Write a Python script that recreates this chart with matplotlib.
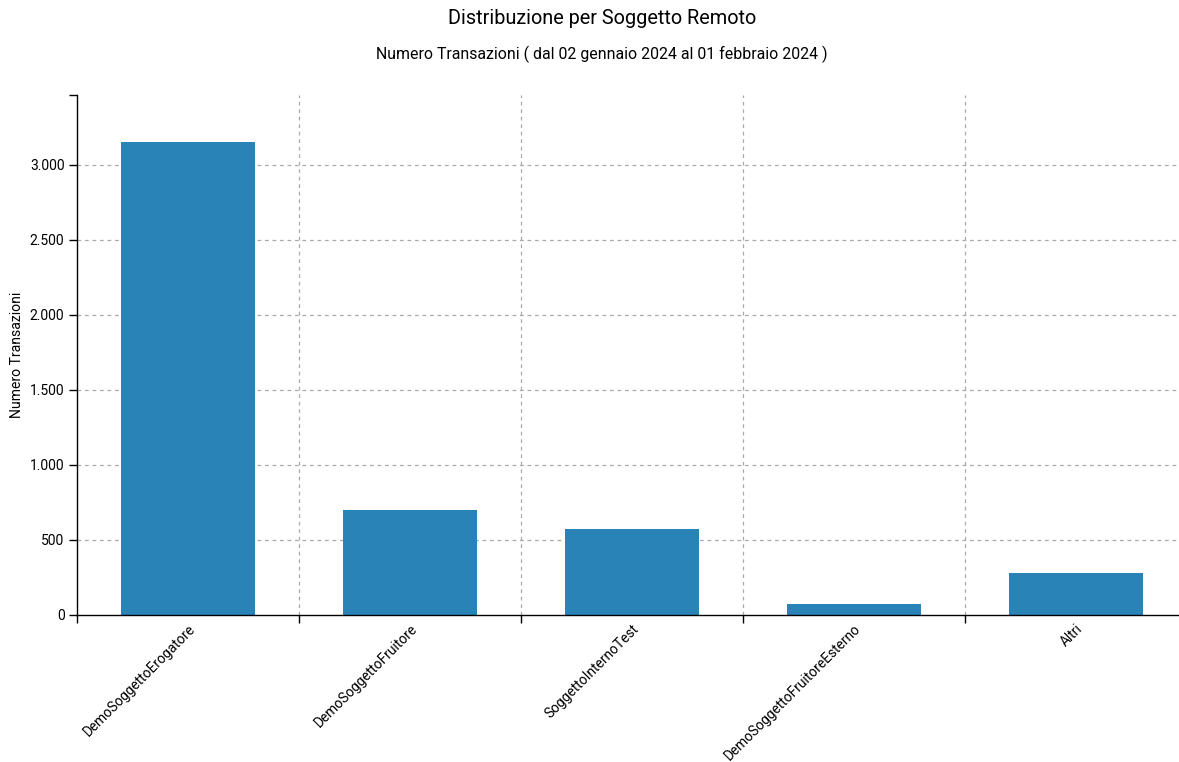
import numpy as np
import matplotlib.pyplot as plt

plt.rcParams['font.family'] = ['Roboto', 'DejaVu Sans']

soggetti = ['DemoSoggettoErogatore', 'DemoSoggettoFruitore', 'SoggettoInternoTest',
            'DemoSoggettoFruitoreEsterno', 'Altri']
transazioni = [3149, 700, 573, 73, 280]
y_ticks = [0, 500, 1000, 1500, 2000, 2500, 3000]
y_labels = ['0', '500', '1.000', '1.500', '2.000', '2.500', '3.000']

W, H = 1179, 762
fig = plt.figure(figsize=(W / 100, H / 100), dpi=100)
# the x domain runs slightly past the right edge of the picture
ax = fig.add_axes([77 / W, (H - 615) / H, 1110 / W, 520 / H])

x = np.arange(len(soggetti)) + 0.5
ax.bar(x, transazioni, width=0.6, color='#2983b6', zorder=2)

ymax = max(transazioni) * 1.1
ax.set_xlim(0, len(soggetti))
ax.set_ylim(0, ymax)

# grid: dashed, horizontal at y ticks, vertical at category boundaries
for yv in y_ticks[1:]:
    ax.axhline(yv, color='#aaaaaa', lw=0.9, ls=(0, (3, 3)), zorder=1)
for xv in range(1, len(soggetti)):
    ax.axvline(xv, color='#aaaaaa', lw=0.9, ls=(0, (3, 3)), zorder=1)

ax.set_yticks(y_ticks + [ymax])
ax.set_yticklabels(y_labels + [''], fontsize=10)
ax.set_xticks(range(len(soggetti) + 1))
ax.set_xticklabels([])
ax.tick_params(axis='both', length=6, width=1, color='black', pad=3)

for xi, name in zip(x, soggetti):
    ax.annotate(name, xy=(xi, 0), xytext=(3.5, -8.5), textcoords='offset points',
                rotation=45, rotation_mode='anchor', ha='right', va='center',
                fontsize=9.9, color='black', annotation_clip=False)

for s in ['top', 'right']:
    ax.spines[s].set_visible(False)
for s in ['left', 'bottom']:
    ax.spines[s].set_linewidth(1)

fig.text(17 / W, 1 - 355 / H, 'Numero Transazioni', rotation=90, ha='center', va='center', fontsize=10.1)
fig.text(602 / W, 1 - 18 / H, 'Distribuzione per Soggetto Remoto', ha='center', va='center', fontsize=14.3)
fig.text(602 / W, 1 - 54 / H, 'Numero Transazioni ( dal 02 gennaio 2024 al 01 febbraio 2024 )',
         ha='center', va='center', fontsize=11.4)

plt.savefig('out.png', dpi=100)
